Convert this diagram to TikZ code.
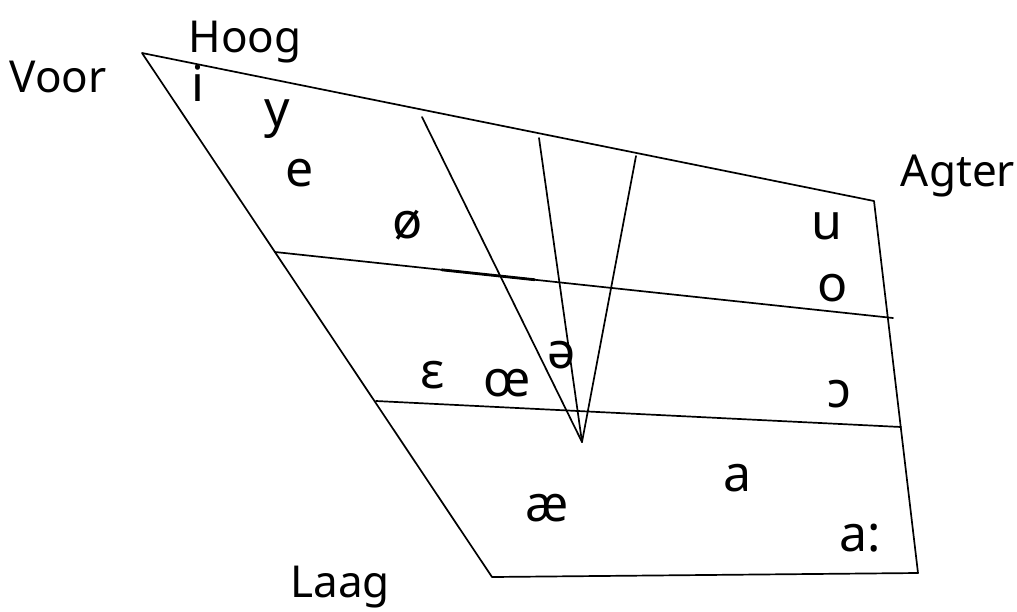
\documentclass[tikz,border=0pt]{standalone}
\usepackage{fontspec}
\setmainfont{Noto Sans}
\usetikzlibrary{calc}
\begin{document}
\begin{tikzpicture}[x=1pt,y=-1pt,
  edge/.style={line width=1.7pt, line cap=round, line join=round},
  lbl/.style={anchor=base, inner sep=0pt, font=\fontsize{44}{50}\selectfont},
  vow/.style={anchor=base, inner sep=0pt, font=\fontsize{50}{56}\selectfont}]
\useasboundingbox[fill=white] (0,0) rectangle (1017,611);
% corners
\coordinate (TL) at (142,53);
\coordinate (TR) at (874,201);
\coordinate (BR) at (918,573);
\coordinate (BL) at (492,577);
% horizontal lines
\coordinate (H1l) at (275,252);
\coordinate (H1r) at (893,318);
\coordinate (H2l) at (376,401);
\coordinate (H2r) at (901,427);
% central lines
\coordinate (C1) at (422,117);
\coordinate (C2) at (539,138);
\coordinate (C3) at (636,156);
\coordinate (V) at (582,442);
\coordinate (B1) at ($(H1l)!0.27!(H1r)$);
\coordinate (B2) at ($(H1l)!0.42!(H1r)$);

\draw[edge] (TL) -- (TR) -- (BR) -- (BL) -- cycle;
\draw[edge] (H1l) -- (H1r);
\draw[edge] (H2l) -- (H2r);
\draw[edge] (C1) -- (V);
\draw[edge] (C2) -- (V);
\draw[edge] (C3) -- (V);
\draw[line width=2.8pt, line cap=round] (B1) -- (B2);

% axis labels
\node[lbl] (voor) at (58,92) {Voor};
\node[lbl] (hoog) at (245,52) {Hoog};
\node[lbl] (agter) at (958,186) {Agter};
\node[lbl] (laag) at (340,597) {Laag};

% vowels
\node[vow] (i) at (198,101) {i};
\node[vow] (y) at (277,126) {y};
\node[vow] (e) at (300,186) {e};
\node[vow] (oe) at (408,238) {ø};
\node[vow] (u) at (827,239) {u};
\node[vow] (o) at (833,301) {o};
\node[vow] (schwa) at (562,368) {ə};
\node[vow] (eps) at (433,388) {ɛ};
\node[vow] (oelig) at (507,396) {œ};
\node[vow] (openo) at (839,407) {ɔ};
\node[vow] (a) at (738,491) {a};
\node[vow] (ae) at (547,521) {æ};
\node[vow] (along) at (860,551) {a:};
\end{tikzpicture}
\end{document}
